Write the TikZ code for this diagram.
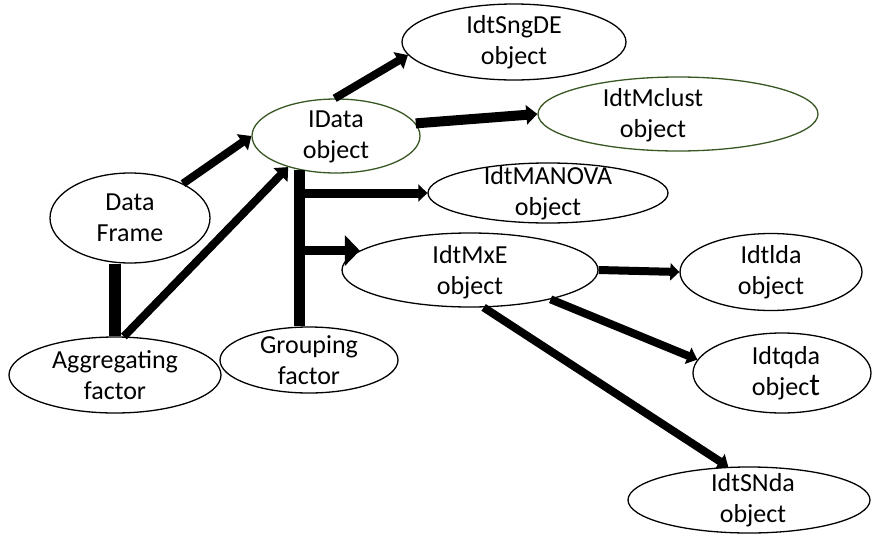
\documentclass[tikz,border=0pt]{standalone}
\usepackage{fontspec}
\setmainfont{Carlito}
\usetikzlibrary{shapes.geometric,arrows.meta,calc}
\definecolor{dkgreen}{RGB}{56,87,35}
\begin{document}
\begin{tikzpicture}[x=1pt,y=-1pt,
  ell/.style n args={2}{ellipse,draw,line width=1.3pt,minimum width=#1pt,minimum height=#2pt,inner sep=0pt},
  lbl/.style={align=center,font=\fontsize{26}{31}\selectfont,inner sep=0pt},
  arr/.style={line width=8pt,-{Triangle[length=11pt,width=19pt]}},
  bar/.style={line width=11pt}]
\useasboundingbox (0,0) rectangle (872,538);
% nodes
\node[ell={224}{76},label={[lbl]center:IdtSngDE\\object}] (sngde) at (514,42) {};
\node[ell={280}{74},draw=dkgreen] (mclust) at (678,114) {};
\node[lbl] (mclusttxt) at (653,115) {IdtMclust\\object};
\node[ell={168}{74},draw=dkgreen,label={[lbl,yshift=-1pt]center:IData\\object}] (idata) at (336,136) {};
\node[ell={160}{90},label={[lbl]center:Data\\Frame}] (df) at (130,218) {};
\node[ell={212}{76},label={[lbl]center:Aggregating\\factor}] (agg) at (115,375) {};
\node[ell={178}{66},label={[lbl]center:Grouping\\factor}] (grp) at (309,360) {};
\node[ell={240}{60},label={[lbl]center:IdtMANOVA\\object}] (manova) at (548,193) {};
\node[ell={256}{74},label={[lbl,yshift=-2pt]center:IdtMxE\\object}] (mxe) at (470,270) {};
\node[ell={182}{77},label={[lbl]center:Idtlda\\object}] (lda) at (771,272) {};
\node[ell={178}{80},label={[lbl,xshift=4pt]center:Idtqda\\objec{\fontsize{32}{31}\selectfont t}}] (qda) at (782,373) {};
\node[ell={242}{66},label={[lbl,xshift=4pt]center:IdtSNda\\object}] (snda) at (749,500) {};
% connectors
\draw[arr] (df.33) -- (idata.west);
\draw[arr] (agg.77) -- (idata.213);
\draw[bar,line width=12pt] (agg.north |- df.south) -- (agg.north);
\draw[bar] (idata.223) -- (idata.223 |- grp.north);
\draw[arr,line width=9pt,-{Triangle[length=9pt,width=17pt]}] (idata.223 |- manova.west) -- (manova.west);
\draw[arr,line width=9pt,-{Triangle[length=15pt,width=30pt]}] (idata.223 |- mxe.170) -- (mxe.170);
\draw[arr] (idata.92) -- (sngde.187);
\draw[arr,line width=10pt] (idata.9) -- (mclust.west);
\draw[arr,-{Triangle[length=9pt,width=17pt]}] (mxe.east) -- (lda.west);
\draw[arr,-{Triangle[length=10pt,width=17pt]}] (mxe.340) -- (qda.171);
\draw[arr,-{Triangle[length=10pt,width=17pt]}] (mxe.290) -- (snda.122);
\end{tikzpicture}
\end{document}
